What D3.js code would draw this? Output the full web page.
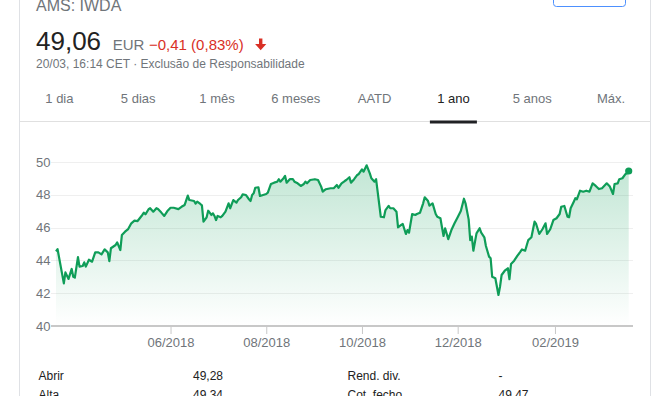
<!DOCTYPE html>
<html>
<head>
<meta charset="utf-8">
<script src="https://cdn.jsdelivr.net/npm/d3@7"></script>
<style>
body { margin: 0; background: #fff; }
svg { display: block; font-family: Arial, "Liberation Sans", sans-serif; }
</style>
</head>
<body>
<script>
var width = 663;
var height = 396;

// one year of quotes, days counted from 20/03/2018
var startDate = new Date(2018, 2, 20);
var dayOffsets = [0, 1, 5, 6, 8, 10, 11, 12, 14, 15, 17, 18, 19, 21, 23, 25, 27, 29, 31, 33, 34, 35, 38, 39, 41, 42,
	44, 46, 48, 50, 52, 55, 56, 57, 59, 60, 62, 64, 65, 67, 69, 71, 73, 75, 78, 80, 82, 84, 85, 88, 89, 90, 92, 93,
	94, 96, 97, 99, 100, 101, 102, 103, 105, 106, 108, 110, 111, 113, 115, 116, 118, 119, 121, 123, 124, 125, 126,
	127, 129, 130, 132, 134, 135, 137, 139, 141, 142, 143, 145, 146, 147, 149, 151, 152, 154, 156, 158, 159, 160,
	162, 165, 167, 169, 170, 172, 175, 177, 179, 180, 182, 184, 185, 187, 188, 190, 192, 193, 195, 196, 198, 200,
	201, 203, 204, 207, 209, 210, 212, 213, 215, 217, 218, 220, 221, 223, 224, 225, 227, 229, 230, 232, 234, 235,
	237, 238, 240, 242, 243, 245, 246, 247, 248, 250, 252, 254, 256, 258, 260, 261, 263, 264, 265, 266, 268, 270,
	271, 273, 274, 276, 277, 278, 280, 282, 283, 284, 286, 288, 289, 290, 292, 294, 296, 297, 299, 301, 303, 305,
	306, 308, 310, 312, 313, 315, 317, 319, 321, 322, 324, 326, 327, 328, 330, 331, 332, 334, 336, 338, 340, 342,
	344, 346, 348, 351, 353, 355, 356, 358, 359, 361, 363, 364, 365];
var prices = [44.55, 44.68, 42.60, 43.27, 42.87, 43.48, 43.00, 42.95, 44.20, 43.62, 43.66, 43.88, 43.62, 44.04,
	43.92, 44.49, 44.49, 44.37, 44.67, 44.49, 43.96, 44.74, 44.94, 45.10, 44.63, 45.55, 45.75, 45.91, 46.26, 46.42,
	46.40, 46.77, 46.91, 46.81, 47.12, 47.18, 46.97, 47.18, 47.13, 46.93, 46.71, 47.01, 47.21, 47.21, 47.13, 47.27,
	47.38, 47.95, 47.68, 47.62, 47.46, 47.58, 47.44, 47.36, 46.36, 46.63, 47.03, 46.77, 46.87, 46.71, 46.46, 46.71,
	46.63, 46.71, 46.97, 47.48, 47.18, 47.68, 47.52, 47.68, 47.85, 48.03, 47.99, 47.73, 47.62, 47.99, 48.09, 48.43,
	48.46, 47.93, 47.99, 48.05, 48.13, 48.66, 48.74, 48.80, 48.95, 48.80, 49.01, 49.15, 48.74, 48.95, 48.95, 48.80,
	48.70, 48.54, 48.66, 48.80, 48.70, 48.90, 48.95, 48.90, 48.50, 48.19, 48.34, 48.40, 48.40, 48.60, 48.43, 48.70,
	48.84, 48.90, 49.07, 48.74, 48.95, 49.21, 49.27, 49.55, 49.41, 49.80, 49.31, 49.01, 48.80, 48.95, 46.66, 46.63,
	47.07, 47.32, 47.18, 47.18, 46.97, 46.02, 46.16, 46.22, 45.61, 45.85, 45.69, 46.83, 46.77, 46.83, 46.91, 47.48,
	47.85, 47.64, 47.34, 47.48, 46.83, 46.66, 46.57, 46.02, 45.49, 45.96, 45.30, 45.85, 46.26, 46.63, 47.01, 47.76,
	47.48, 46.50, 45.24, 45.45, 44.59, 45.65, 45.96, 45.69, 45.41, 44.88, 44.23, 44.13, 43.00, 42.91, 41.89, 42.40,
	43.11, 43.37, 43.52, 42.85, 43.78, 43.98, 44.27, 44.53, 44.67, 44.59, 45.24, 45.41, 46.36, 46.22, 45.61, 45.90,
	46.26, 45.61, 45.90, 46.46, 46.57, 46.83, 47.27, 47.32, 46.66, 46.63, 47.18, 47.58, 47.79, 47.73, 48.25, 48.19,
	48.25, 48.19, 48.70, 48.54, 48.35, 48.40, 48.70, 48.50, 48.05, 48.66, 48.70, 48.95, 49.01, 49.27, 49.31, 49.45];

var yTicks = [40, 42, 44, 46, 48, 50];
var xTickLabels = ["06/2018", "08/2018", "10/2018", "12/2018", "02/2019"];
var tabs = ["1 dia", "5 dias", "1 mês", "6 meses", "AATD", "1 ano", "5 anos", "Máx."];
var activeTab = "1 ano";
var statNames = ["Abrir", "Alta"];
var statValues = ["49,28", "49,34"];
var statNames2 = ["Rend. div.", "Cot. fecho"];
var statValues2 = ["-", "49,47"];

var grey = "#70757a";
var green = "#0f9d58";

var data = dayOffsets.map(function(d, i) {
	return { date: d3.timeDay.offset(startDate, d), value: prices[i] };
});

var svg = d3.select("body").append("svg")
	.attr("width", width)
	.attr("height", height);

// card borders
svg.append("line").attr("x1", 19.5).attr("x2", 19.5).attr("y1", 0).attr("y2", height)
	.attr("stroke", "#dfe1e5");
svg.append("line").attr("x1", 650.5).attr("x2", 650.5).attr("y1", 0).attr("y2", height)
	.attr("stroke", "#dfe1e5");
svg.append("rect").attr("x", 553.5).attr("y", -10).attr("width", 72).attr("height", 16.5)
	.attr("rx", 3).attr("fill", "none").attr("stroke", "#4d90fe");

// header
svg.append("text").attr("x", 36).attr("y", 11).attr("font-size", "16px").attr("fill", grey)
	.text("AMS: IWDA");
svg.append("text").attr("x", 36).attr("y", 50).attr("font-size", "26px").attr("fill", "#222")
	.text("49,06");
svg.append("text").attr("x", 112.7).attr("y", 49.5).attr("font-size", "15px").attr("fill", grey)
	.text("EUR");
svg.append("text").attr("x", 149).attr("y", 49.5).attr("font-size", "15px").attr("fill", "#d93025")
	.text("\u22120,41 (0,83%)");
// bold down arrow
svg.append("path")
	.attr("d", "M259 38.5h3.4v5.6h3.9l-5.6 6.2-5.6-6.2h3.9z")
	.attr("fill", "#d93025");
svg.append("text").attr("x", 36).attr("y", 67.5).attr("font-size", "12px").attr("fill", grey)
	.text("20/03, 16:14 CET \u00b7 Exclusão de Responsabilidade");

// range tabs
var tabScale = d3.scaleBand().domain(tabs).range([20, 650.4]);
svg.selectAll(".tab").data(tabs).enter().append("text")
	.attr("class", "tab")
	.attr("x", function(d) { return tabScale(d) + tabScale.bandwidth() / 2; })
	.attr("y", 103)
	.attr("text-anchor", "middle")
	.attr("font-size", "13px")
	.attr("fill", function(d) { return d === activeTab ? "#222" : grey; })
	.text(function(d) { return d; });
svg.append("line").attr("x1", 20).attr("x2", 650).attr("y1", 121.5).attr("y2", 121.5)
	.attr("stroke", "#e0e0e0");
svg.append("rect")
	.attr("x", tabScale(activeTab) + tabScale.bandwidth() / 2 - 23.5)
	.attr("y", 120.5).attr("width", 47).attr("height", 3)
	.attr("fill", "#202124");

// chart
var plotLeft = 51, plotRight = 633;
var x = d3.scaleTime()
	.domain([startDate, d3.timeDay.offset(startDate, 365)])
	.range([56, 628.7]);
var y = d3.scaleLinear().domain([40, 50]).range([326, 162]);

var grad = svg.append("defs").append("linearGradient")
	.attr("id", "fillGrad")
	.attr("gradientUnits", "userSpaceOnUse")
	.attr("x1", 0).attr("x2", 0).attr("y1", y(50)).attr("y2", y(40));
grad.append("stop").attr("offset", "0%").attr("stop-color", green).attr("stop-opacity", 0.26);
grad.append("stop").attr("offset", "100%").attr("stop-color", green).attr("stop-opacity", 0);

svg.selectAll(".grid").data(yTicks.filter(function(d) { return d > 40; })).enter().append("line")
	.attr("class", "grid")
	.attr("x1", plotLeft).attr("x2", plotRight)
	.attr("y1", function(d) { return Math.round(y(d)) + 0.5; })
	.attr("y2", function(d) { return Math.round(y(d)) + 0.5; })
	.attr("stroke", "#efefef");

svg.append("path").datum(data)
	.attr("fill", "url(#fillGrad)")
	.attr("d", d3.area()
		.x(function(d) { return x(d.date); })
		.y0(y(40))
		.y1(function(d) { return y(d.value); }));

svg.append("path").datum(data)
	.attr("fill", "none")
	.attr("stroke", green)
	.attr("stroke-width", 2.2)
	.attr("stroke-linejoin", "round")
	.attr("d", d3.line()
		.x(function(d) { return x(d.date); })
		.y(function(d) { return y(d.value); }));

var last = data[data.length - 1];
svg.append("circle").attr("cx", x(last.date)).attr("cy", y(last.value)).attr("r", 3.6)
	.attr("fill", green);

// axes
svg.append("line").attr("x1", plotLeft).attr("x2", plotRight).attr("y1", 326).attr("y2", 326)
	.attr("stroke", "#c8c8c8").attr("stroke-width", 2);

var parseMonth = d3.timeParse("%m/%Y");
var xAxis = svg.append("g")
	.attr("transform", "translate(0,327)")
	.call(d3.axisBottom(x)
		.tickValues(xTickLabels.map(parseMonth))
		.tickFormat(d3.timeFormat("%m/%Y"))
		.tickSize(7)
		.tickPadding(4));
xAxis.select(".domain").remove();
xAxis.selectAll(".tick line").attr("stroke", "#c8c8c8");
xAxis.selectAll(".tick text")
	.attr("font-family", "Arial, 'Liberation Sans', sans-serif")
	.attr("font-size", "13px").attr("fill", grey);

var yAxis = svg.append("g")
	.attr("transform", "translate(50.5,0)")
	.call(d3.axisLeft(y).tickValues(yTicks).tickSize(0).tickPadding(0));
yAxis.select(".domain").remove();
yAxis.selectAll(".tick text")
	.attr("font-family", "Arial, 'Liberation Sans', sans-serif")
	.attr("font-size", "13px").attr("fill", grey);

// stats table
var rowY = d3.scaleLinear().domain([0, 1]).range([380, 399]);
function column(values, xPos) {
	svg.selectAll(null).data(values).enter().append("text")
		.attr("x", xPos)
		.attr("y", function(d, i) { return rowY(i); })
		.attr("font-size", "12px")
		.attr("fill", "#222")
		.text(function(d) { return d; });
}
column(statNames, 38.5);
column(statValues, 193);
column(statNames2, 347.5);
column(statValues2, 498.5);
</script>
</body>
</html>
